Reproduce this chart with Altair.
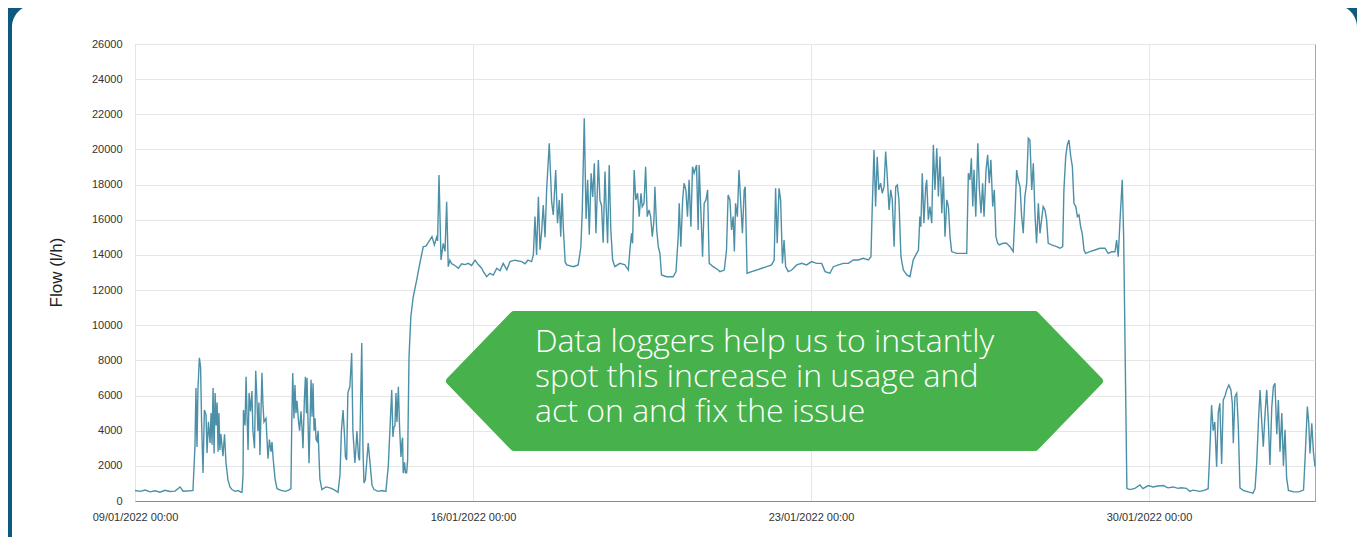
import altair as alt
import pandas as pd

# ---- data: [hours since 09/01/2022 00:00, flow l/h] ----
week1 = [[0,600],[2.5,550],[5,620],[7.5,520],[10,580],[12.4,500],[14.9,610],[17.4,540],[19.9,560],[22.4,800],[23.9,560],[27.3,580],[28.8,600],
[29.8,3100],[30.3,6430],[30.8,3070],[31.3,6400],[32.0,8150],[32.6,7600],[33.1,4500],[33.8,1590],[34.5,5180],[35.3,4900],[35.8,2730],[36.5,4500],[37.3,3300],[37.8,5000],[38.3,3200],[38.8,6430],[39.3,2700],[39.8,6150],[40.3,4300],[40.8,5600],[41.3,2800],[41.7,5000],[42.2,2900],[42.7,3810],[43.7,2550],[44.5,3800],[45.2,2200],[46.2,1200],[47.2,800],[48.2,650],[49.7,550],[51.2,600],[52.7,500],
[53.2,500],[53.7,1500],[53.9,5180],[54.7,4300],[55.2,7070],[55.7,4800],[56.2,2900],[56.7,6150],[57.4,5100],[58.1,6260],[58.6,4000],[59.4,3000],[60.0,7410],[60.6,5800],[61.1,3980],[61.6,5600],[62.1,2620],[63.1,7300],[63.6,5500],[64.1,4500],[65.1,4700],[66.1,2400],[66.8,3500],[67.6,2800],[68.1,3350],[68.6,2500],[69.6,1260],[70.6,700],[72.6,600],[74.6,550],[76.5,620],
[77.5,700],[77.9,4300],[78.4,7280],[79.0,4700],[79.5,6600],[80.0,5000],[80.5,5700],[81.3,4500],[81.8,4000],[82.5,5100],[83.0,4200],[83.5,3000],[84.2,5800],[84.7,7070],[85.2,5000],[85.5,7000],[86.0,4500],[86.5,2150],[87.5,6900],[88.0,4800],[88.5,6700],[89.0,4000],[89.5,4700],[90.0,3500],[90.5,3400],[91.0,4000],[91.5,2400],[91.9,1260],[92.9,650],[94.9,800],[96.9,750],[98.9,650],[100.9,500],
[101.9,1500],[102.6,4000],[103.4,5180],[104.1,3800],[104.6,2500],[105.2,2330],[105.8,6150],[106.8,6500],[107.7,8420],[108.3,4000],[109.3,2160],[109.8,3000],[110.3,3980],[111.1,2500],[111.6,2300],[112.7,8990],[113.3,3000],[113.8,1020],[114.5,1200],[115.9,3300],[116.8,2200],[117.8,900],[118.8,650],[120.8,550],[122.8,600],[124.7,550],
[125.9,2000],[126.7,4040],[127.6,6320],[128.2,3640],[128.7,4200],[129.2,4270],[129.7,6150],[130.2,4500],[130.9,6500],[131.5,4200],[132.2,2500],[132.7,3400],[133.0,3600],[133.3,1590],[134.0,2200],[134.4,1600],[135.0,1600],[135.5,2300]]

rise = [[136.2,8200],[137.1,10490],[138.3,11620],[140.0,12570],[141.6,13540],[143.3,14470],[144.6,14500],[146.6,14850],[147.6,15040],[148.8,14570],[149.9,15000],[150.4,14800],[151.1,18550],[152.1,13710],[153.2,14660],[154.1,14200],[154.9,17030],[155.7,13330],[156.5,13700],[157.4,13500],[159.0,13400],[160.7,13240],[162.4,13500],[164.0,13450],[165.7,13520],[167.3,13400],[169.0,13700],[170.6,13450],[172.3,13240],[173.4,13000],[174.8,12760],[176.4,12950],[178.1,12850],[179.8,13240],[181.4,13100],[183.0,13520],[184.8,13150],[186.4,13620],[188.9,13700],[192.2,13620],[193.8,13500],[195.3,13700],[197.1,13620],[198.0,14000]]

week2 = [[198.8,16180],[199.6,14000],[200.5,17310],[201.3,14300],[202.1,15300],[202.9,16840],[203.8,15000],[204.6,17700],[205.9,20350],[207.1,17000],[207.9,16270],[209.1,18830],[210.0,15800],[210.9,17130],[211.6,15040],[212.3,17510],[212.9,15500],[213.8,13600],[214.6,13430],[217.9,13330],[220.3,13430],[221.6,14450],
[222.3,16500],[223.3,21780],[224.2,16050],[225.0,18270],[225.8,15150],[226.7,18650],[227.5,17300],[228.3,19220],[229.1,15230],[230.3,19400],[231.1,17100],[231.9,16800],[232.7,14700],[233.6,18740],[234.2,16700],[234.9,14660],[235.7,19120],[236.5,15400],[237.4,13710],[238.5,13330],[241.0,13520],[243.5,13430],[245.2,13140],
[246.0,14300],[246.8,15230],[247.3,14660],[248.1,18830],[248.9,17130],[249.8,17510],[250.6,16180],[251.5,17510],[252.1,16750],[253.0,16940],[253.8,19020],[254.6,16180],[255.5,16560],[256.3,16180],[257.1,15040],[257.9,15900],[258.4,17880],[259.3,15420],[260.1,14470],[260.9,14090],[261.7,12860],[264.2,12760],[267.5,12760],[268.9,13050],
[270.0,15040],[270.5,16940],[271.3,14470],[272.2,17130],[272.9,18080],[273.8,17700],[274.6,16180],[275.4,18270],[276.3,15610],[277.1,19020],[277.9,18650],[279.1,19120],[279.9,15420],[280.4,19120],[281.3,16370],[282.1,13900],[282.9,16940],[283.8,17130],[284.6,17700],[285.4,13520],[287.4,13330],[289.9,13140],[290.7,13050],[292.9,13140],
[294.0,14280],[294.8,17410],[295.7,17130],[296.5,15420],[297.3,16180],[297.9,14190],[298.5,16940],[299.4,16180],[300.2,18830],[301.0,17130],[301.9,15230],[302.8,17700],[303.3,17880],[304.2,12960],[306.5,13050],[309.0,13140],[311.5,13240],[314.0,13330],[316.4,13430],[317.7,13710],
[318.4,17790],[319.2,14660],[320.1,17790],[320.9,17130],[321.8,13520],[322.6,14850],[323.4,13330],[324.7,13050],[326.4,13140],[328.9,13430],[331.4,13520],[333.8,13430]]

week3 = [[336.3,13620],[338.8,13520],[341.3,13520],[343.0,13050],[345.4,12960],[347.1,13330],[349.6,13430],[352.1,13520],[354.6,13520],[357.0,13710],[359.5,13710],[362.0,13810],[364.5,13710],[365.8,13900],
[366.4,16560],[367.3,19970],[368.1,16750],[368.9,19590],[369.7,17700],[370.6,18080],[371.4,17510],[372.3,17880],[373.1,19880],[373.9,18460],[374.8,16560],[375.6,17700],[376.4,17130],[377.3,14470],[378.1,17880],[378.9,17980],[379.7,17130],[380.7,13900],[381.9,13140],[383.6,12860],[385.2,12760],[386.8,13710],[388.5,14090],[389.4,14280],
[390.1,16180],[390.6,15610],[391.3,18650],[392.1,15800],[393.0,17880],[393.5,18270],[394.3,16000],[395.1,16750],[396.0,15800],[396.8,20260],[397.6,17700],[398.5,20070],[399.3,17320],[400.1,19600],[401.0,16370],[401.8,18460],[402.6,15040],[403.5,17130],[404.3,16750],[405.1,15040],[405.9,14190],[408.4,14090],[411.7,14090],[413.4,14090],
[414.2,18650],[415.0,18270],[415.7,19500],[416.4,16750],[417.0,18840],[417.9,16180],[418.9,20350],[419.7,17700],[420.5,16370],[421.3,18080],[422.0,16180],[423.0,18840],[423.8,19690],[424.6,18080],[425.4,19410],[426.3,16750],[427.1,17700],[427.9,15040],[428.8,14660],[429.6,14570],[431.4,14660],[433.2,14660],[434.9,14470],[436.5,14190],
[437.4,16370],[438.2,18830],[439.0,18270],[439.9,17880],[440.7,16180],[441.5,15230],[442.3,17320],[443.2,18080],[444.0,20640],[444.8,20540],[445.7,17700],[446.5,19220],[447.3,16370],[448.1,14660],[449.0,16940],[449.8,15230],[450.6,15990],[451.4,16750],[452.3,16560],[453.1,15990],[453.9,14660],[455.6,14570],[458.1,14470],[459.7,14380],[461.1,14470],
[461.7,17700],[462.6,19600],[463.4,20260],[464.2,20540],[465.1,19600],[465.9,19030],[466.7,16940],[467.6,16750],[468.4,16180],[469.2,16280],[470.0,15610],[470.8,15230],[471.7,14280],[472.5,14090],[474.6,14190],[477.1,14280],[479.6,14380],[482.1,14380],[483.7,14090],[485.4,14180],[487.1,14180],[487.9,14850],[488.7,13900],[489.6,16000],[490.7,18270],[491.4,15000],[493.0,720]]

week4 = [[494.5,650],[497.0,720],[499.5,910],[501.0,700],[503.6,880],[506.0,800],[508.4,850],[511.1,880],[513.4,750],[516.0,800],[518.4,720],[519.9,750],[522.6,720],[524.3,550],[525.8,620],[529.3,550],[531.8,620],[533.4,700],
[534.2,2800],[535.1,5460],[535.9,4000],[536.7,4500],[537.6,1950],[538.4,5000],[539.2,5560],[540.1,2100],[540.9,5750],[541.7,5940],[542.6,6320],[543.7,6600],[544.7,6320],[545.4,5560],[545.9,3280],[546.7,5940],[547.6,6130],[548.4,4180],[549.2,750],[550.8,600],[553.3,520],[555.7,450],[556.7,700],
[557.5,2100],[558.4,4570],[559.2,6320],[560.0,4570],[560.8,3090],[561.7,5000],[562.5,6320],[563.3,4570],[564.1,2050],[565.0,5300],[565.8,6500],[566.6,6700],[567.5,3800],[568.3,5750],[569.1,2800],[570.0,5000],[570.8,2000],[571.6,4050],[572.4,1300],[573.3,600],[575.8,520],[578.3,520],[580.8,620],
[581.6,2500],[582.7,5370],[583.4,4420],[584.0,2700],[584.9,4420],[585.7,2800],[586.5,1950]]

y_ticks = list(range(0, 26001, 2000))
tick_days = [9, 16, 23, 30]
callout_lines = ["Data loggers help us to instantly",
                 "spot this increase in usage and",
                 "act on and fix the issue"]

# ---- build table ----
rows = week1 + rise + week2 + week3 + week4
df = pd.DataFrame(rows, columns=["h", "flow"])
start = pd.Timestamp("2022-01-09 00:00")
df["time"] = (start + pd.to_timedelta(df["h"], unit="h")).dt.strftime("%Y-%m-%dT%H:%M:%S")

BLUE = "#0c5a7e"
GREEN = "#47b24b"
LINE = "#4c90a8"

x_enc = alt.X(
    "time:T",
    scale=alt.Scale(domain=[alt.DateTime(year=2022, month=1, date=9, hours=0),
                            alt.DateTime(year=2022, month=2, date=2, hours=10, minutes=30)],
                    nice=False),
    axis=alt.Axis(values=[alt.DateTime(year=2022, month=1, date=d) for d in tick_days],
                  format="%d/%m/%Y %H:%M", title=None, ticks=False, labelFlush=False,
                  labelPadding=10, labelFontSize=11, labelFont="Liberation Sans",
                  labelColor="#333333", domain=True, domainColor="#8c8c8c",
                  grid=True, gridColor="#e6e6e6"),
)
y_enc = alt.Y(
    "flow:Q",
    scale=alt.Scale(domain=[0, 26000], nice=False, zero=True),
    axis=alt.Axis(values=y_ticks, format="d", ticks=False, labelPadding=13,
                  labelFontSize=11, labelFont="Liberation Sans", labelColor="#333333",
                  domain=False, grid=True, gridColor="#e6e6e6",
                  title="Flow (l/h)", titleFontSize=17, titleFont="Liberation Sans",
                  titleFontWeight="normal", titleColor="#222222", titleAngle=270,
                  titleAlign="center", titleBaseline="middle", titleX=-79, titleY=228),
)

line = alt.Chart(df).mark_line(color=LINE, strokeWidth=1.4).encode(x=x_enc, y=y_enc)

one = pd.DataFrame({"k": [0]})

left_strip = alt.Chart(one).mark_rect(color=BLUE).encode(
    x=alt.value(-127), x2=alt.value(-123), y=alt.value(-40), y2=alt.value(520))

corner_tl = alt.Chart(one).mark_point(
    shape="M 0 0 L 1 0 A 1 1 0 0 0 0 1 Z", filled=True, color=BLUE, opacity=1,
    size=1936, strokeWidth=0).encode(x=alt.value(-123), y=alt.value(-39))
corner_tr = alt.Chart(one).mark_point(
    shape="M 0 0 L 0 1 A 1 1 0 0 0 -1 0 Z", filled=True, color=BLUE, opacity=1,
    size=1936, strokeWidth=0).encode(x=alt.value(1222), y=alt.value(-39))

hexagon = alt.Chart(one).mark_point(
    shape="M -1 0 L -0.803 -0.2034 L 0.803 -0.2034 L 1 0 L 0.803 0.2034 L -0.803 0.2034 Z",
    filled=True, color=GREEN, stroke=GREEN, strokeWidth=8, strokeJoin="round",
    opacity=1, size=421201).encode(x=alt.value(639.5), y=alt.value(337))

callout = alt.Chart(one).mark_text(
    text=callout_lines, align="left", baseline="middle", font="Open Sans",
    fontWeight=300, fontSize=32, lineHeight=35, color="white").encode(
    x=alt.value(400), y=alt.value(298))

chart = alt.layer(line, left_strip, corner_tl, corner_tr, hexagon, callout).properties(
    width=1180, height=457,
    padding={"left": 127, "top": 36, "right": 42, "bottom": 36},
    autosize=alt.AutoSizeParams(type="none"),
    background="white",
).configure_view(stroke="#a6a6a6", strokeWidth=1)

chart.save("out.html", embed_options={"renderer": "svg", "actions": False})
